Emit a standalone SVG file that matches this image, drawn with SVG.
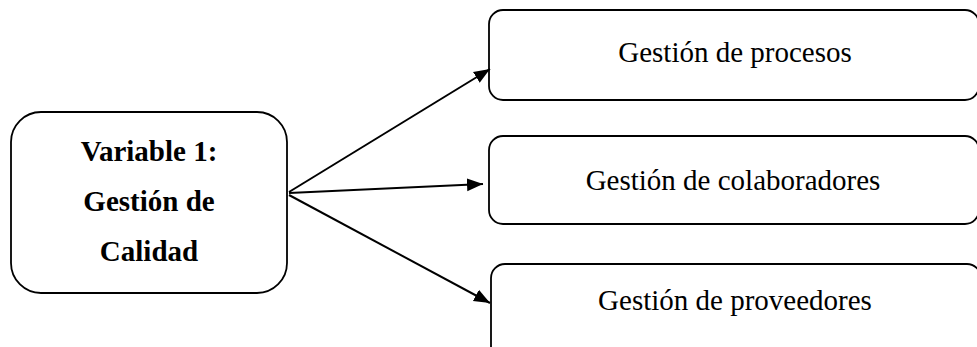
<svg xmlns="http://www.w3.org/2000/svg" width="977" height="347" viewBox="0 0 977 347">
<defs>
<style>
.box{fill:#fff;stroke:#000;stroke-width:1.8}
.t{font-family:"Liberation Serif","Times New Roman",serif;font-size:29px;fill:#000;text-anchor:middle}
.b{font-weight:bold}
.c{stroke:#000;stroke-width:2;fill:none}
</style>
<marker id="ah" viewBox="0 0 10 10" refX="10" refY="5" markerWidth="10" markerHeight="10" markerUnits="userSpaceOnUse" orient="auto">
<path d="M0,0 L10,5 L0,10 z" fill="#000"/>
</marker>
<marker id="ah2" viewBox="0 0 10 10" refX="10" refY="5" markerWidth="16" markerHeight="16" markerUnits="userSpaceOnUse" orient="auto">
<path d="M0,1 L10,5 L0,9 z" fill="#000"/>
</marker>
</defs>
<g id="n-variable">
<rect class="box" x="11" y="112" width="276" height="181" rx="30" ry="30"/>
<text class="t b" x="149" y="161">Variable 1:</text>
<text class="t b" x="149" y="211">Gestión de</text>
<text class="t b" x="149" y="261">Calidad</text>
</g>
<g id="n-procesos">
<rect class="box" x="489" y="10" width="490" height="90" rx="14" ry="14"/>
<text class="t" x="735" y="62">Gestión de procesos</text>
</g>
<g id="n-colaboradores">
<rect class="box" x="489" y="136" width="490" height="88" rx="14" ry="14"/>
<text class="t" x="733" y="190">Gestión de colaboradores</text>
</g>
<g id="n-proveedores">
<rect class="box" x="491" y="264" width="490" height="100" rx="14" ry="14"/>
<text class="t" x="735" y="310">Gestión de proveedores</text>
</g>
<g id="connectors">
<line class="c" x1="289" y1="192" x2="490" y2="69" marker-end="url(#ah2)"/>
<line class="c" x1="289" y1="193" x2="483" y2="184" marker-end="url(#ah2)"/>
<line class="c" x1="289" y1="195" x2="490" y2="303" marker-end="url(#ah2)"/>
</g>
</svg>
